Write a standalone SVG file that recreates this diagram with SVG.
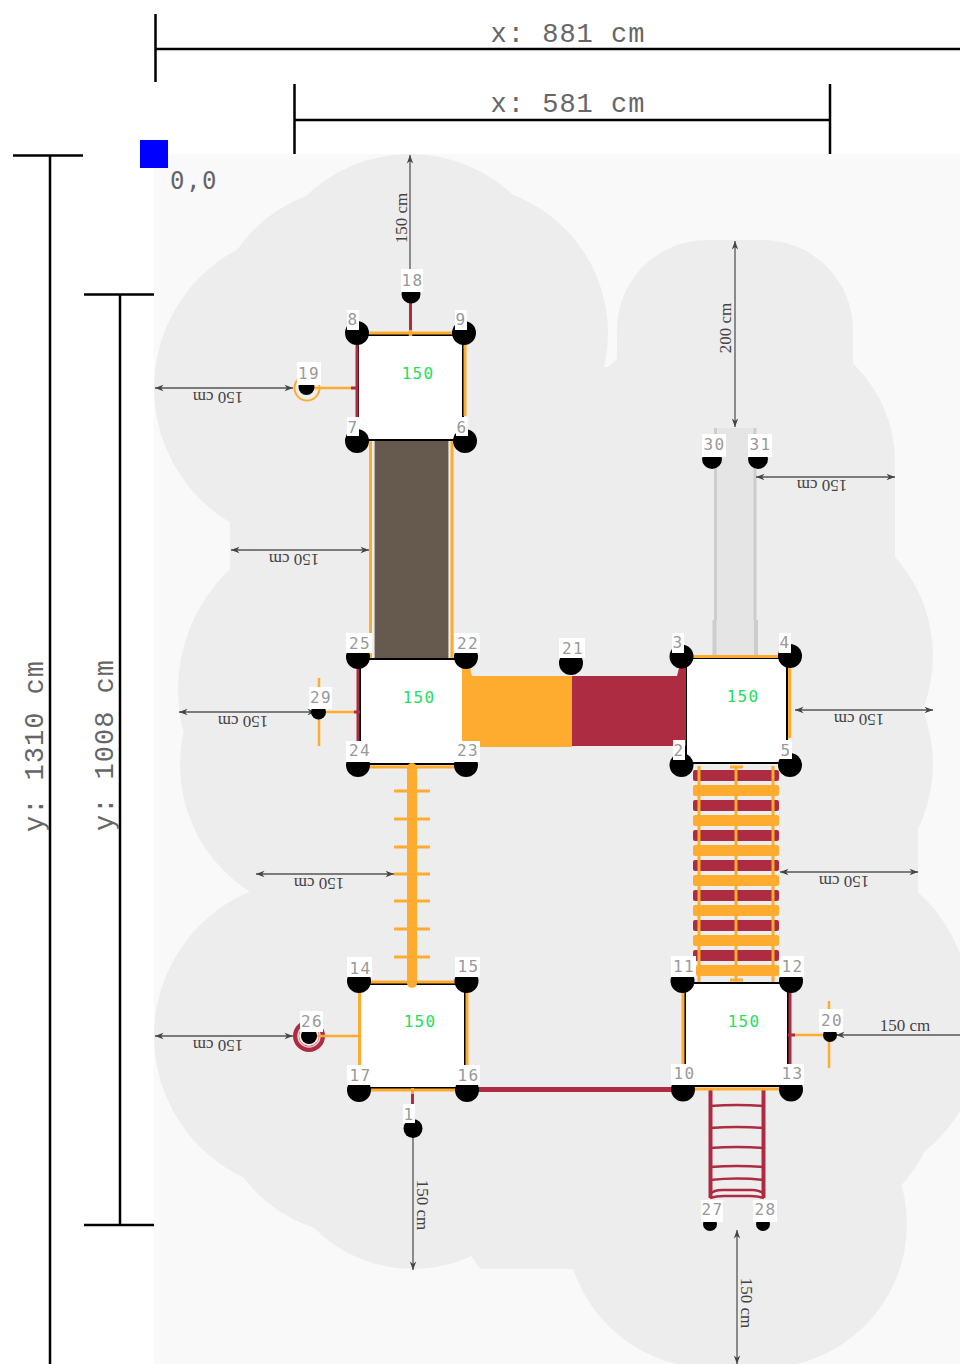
<svg xmlns="http://www.w3.org/2000/svg" width="960" height="1364" viewBox="0 0 960 1364">
<defs>
<marker id="a" markerWidth="10" markerHeight="8" refX="9" refY="4" orient="auto-start-reverse" markerUnits="userSpaceOnUse"><path d="M0.500 0.800L9 4L0.500 7.200L3 4Z" fill="#444"/></marker>
</defs>
<style>
.zone{fill:#ededed}
.dim{stroke:#000;stroke-width:2.5;fill:none}
.dt{font-family:"Liberation Mono","DejaVu Sans Mono",monospace;font-size:27px;letter-spacing:1px;fill:#666;text-anchor:middle}
.ar{stroke:#555;stroke-width:1.3;fill:none;marker-start:url(#a);marker-end:url(#a)}
.ar1{stroke:#555;stroke-width:1.3;fill:none;marker-end:url(#a)}
.at{font-family:"Liberation Serif",serif;font-size:17px;fill:#444;text-anchor:middle}
.o{stroke:#fdac2f;fill:none}
.r{stroke:#ad2c42;fill:none}
.k{stroke:#000;stroke-width:2;fill:#fff}
.n{fill:#000}
.lb{fill:#fff}
.lt{font-family:"DejaVu Sans Mono",monospace;font-size:16px;letter-spacing:1.300px;fill:#999;text-anchor:middle}
.h{font-family:"DejaVu Sans Mono",monospace;font-size:16px;letter-spacing:1.200px;fill:#22e05c;text-anchor:middle}
</style>
<rect x="154" y="154" width="806" height="1210" fill="#f9f9f9"/>
<g id="safety-zone" class="zone">
<circle cx="311" cy="388" r="157"/><circle cx="410" cy="304" r="150"/><circle cx="460" cy="333" r="148"/><circle cx="357" cy="333" r="146"/>
<rect x="230" y="440" width="387" height="260"/><path d="M420 367H608L617 359V477H420Z"/>
<rect x="617" y="240" width="236" height="320" rx="90"/>
<circle cx="758" cy="462" r="137"/><rect x="600" y="470" width="295" height="160"/>
<circle cx="785" cy="656" r="148"/><circle cx="785" cy="764" r="148"/>
<circle cx="345" cy="690" r="167"/><circle cx="330" cy="765" r="150"/>
<rect x="300" y="600" width="560" height="500"/>
<rect x="700" y="830" width="218" height="62"/><circle cx="768" cy="880" r="150"/><circle cx="819" cy="1005" r="150"/>
<circle cx="311" cy="1036" r="157"/><circle cx="359" cy="1090" r="145"/>
<circle cx="413" cy="1129" r="140"/><path d="M472 1090H719V1269H480L472 1257Z"/>
<circle cx="710" cy="1224" r="144"/><circle cx="763" cy="1224" r="144"/><circle cx="830" cy="1034" r="151"/><circle cx="790" cy="1030" r="150"/><circle cx="790" cy="1085" r="150"/>
</g>
<g id="equipment">
<rect x="374.500" y="440" width="74" height="220" fill="#665a4e" stroke="#b5afa8" stroke-width="1"/>
<path class="o" stroke-width="3" d="M370.500 440V660M452 440V660"/>
<g fill="#ad2c42"><rect x="693" y="770" width="86" height="11" rx="2"/><rect x="693" y="800" width="86" height="11" rx="2"/><rect x="693" y="830" width="86" height="11" rx="2"/><rect x="693" y="860" width="86" height="11" rx="2"/><rect x="693" y="890" width="86" height="11" rx="2"/><rect x="693" y="920" width="86" height="11" rx="2"/><rect x="693" y="950" width="86" height="11" rx="2"/></g>
<g fill="#fdac2f"><rect x="693" y="785" width="86" height="11" rx="2"/><rect x="693" y="815" width="86" height="11" rx="2"/><rect x="693" y="845" width="86" height="11" rx="2"/><rect x="693" y="875" width="86" height="11" rx="2"/><rect x="693" y="905" width="86" height="11" rx="2"/><rect x="693" y="935" width="86" height="11" rx="2"/><rect x="696" y="965" width="83" height="11" rx="2"/></g>
<path class="o" stroke-width="3" d="M699 766V982M736 766V982M773 766V982M730 767H743M730 980H743"/>
<path class="r" stroke-width="4" d="M710.500 1089V1198M763.500 1089V1198"/>
<path class="r" stroke-width="2.500" d="M710 1106Q737 1104 764 1106M710 1128Q737 1126 764 1128M710 1148Q737 1146 764 1148M710 1167Q737 1165 764 1167M710 1180Q737 1177 764 1180M710 1194Q714 1190 722 1190H752Q760 1190 764 1194M710 1198Q716 1196 724 1196H750Q758 1196 764 1198"/>
<path class="r" stroke-width="5" d="M466 1089.500H683"/>
<rect x="715" y="428" width="40" height="230" fill="#e5e5e5"/>
<path stroke="#cdcdcd" fill="none" stroke-width="3" d="M715.500 428V620M755 428V620"/>
<path stroke="#cdcdcd" fill="none" stroke-width="4" d="M714.500 620V658M756 620V658"/>
</g>
<g id="platform-a">
<rect class="k" x="358" y="335" width="105" height="105"/>
<path class="o" stroke-width="3" d="M357 333H464M465 334V416"/>
<path class="r" stroke-width="3" d="M357 333V441"/>
<path class="r" stroke-width="3" d="M410.500 297V333"/>
<path class="o" stroke-width="3.500" d="M410.500 330V336"/>
<path class="o" stroke-width="2.500" d="M307 388H352"/>
<path class="r" stroke-width="3" d="M351 388H357"/>
<circle class="o" stroke-width="2" cx="307" cy="388" r="12.500"/>
<text class="h" x="418" y="379">150</text>
</g>
<g id="platform-b">
<rect class="k" x="360" y="659" width="104" height="105"/>
<path class="o" stroke-width="3" d="M358 767H466"/>
<path class="r" stroke-width="3" d="M358 660V741"/>
<path class="o" stroke-width="2.500" d="M318 712H355M319 678V746"/>
<path class="r" stroke-width="3" d="M354 712H360"/>
<text class="h" x="419" y="703">150</text>
</g>
<g id="platform-c">
<rect class="k" x="686" y="658" width="101" height="105"/>
<path class="o" stroke-width="3" d="M681 656.500H789"/>
<path class="o" stroke-width="3" d="M789.500 668V738"/>
<text class="h" x="743" y="702">150</text>
</g>
<g id="platform-d">
<rect class="k" x="360" y="984" width="105" height="104"/>
<path class="o" stroke-width="3" d="M359 982H466M359 1090H467"/>
<path class="o" stroke-width="3" d="M359.500 990V1066M467 990V1066"/>
<path class="r" stroke-width="3" d="M412.500 1092V1105"/>
<path class="o" stroke-width="3" d="M412.500 1088V1094"/>
<circle fill="none" stroke="#ad2c42" stroke-width="6" cx="309" cy="1036" r="13"/>
<circle fill="none" stroke="#f2c8c8" stroke-width="1.500" cx="309" cy="1036" r="11"/>
<path class="o" stroke-width="2.500" d="M309 1036H360"/>
<text class="h" x="420" y="1027">150</text>
</g>
<g id="platform-e">
<rect class="k" x="685" y="983" width="103" height="103"/>
<path class="o" stroke-width="3" d="M683 1089H790"/>
<path class="o" stroke-width="3" d="M683 990V1065"/>
<path class="r" stroke-width="3" d="M790 990V1065"/>
<path class="o" stroke-width="2.500" d="M793 1035H829M829 1001V1068"/>
<path class="r" stroke-width="3" d="M788 1035H795"/>
<text class="h" x="744" y="1027">150</text>
</g>
<g id="deck">
<path fill="#fdac2f" d="M462 668H470L472 676H572V747H462Z"/>
<path fill="#ad2c42" d="M572 676H677L679 668H686V746H572Z"/>
<path class="o" stroke-width="10" stroke-linecap="round" d="M412 768V983"/>
<path class="o" stroke-width="3" d="M394 791H430M394 819H430M394 847H430M394 874H430M394 901H430M394 929H430M394 957H430"/>
</g>
<g id="connectors">
<path class="dim" d="M155.500 14V82M155.500 49H960M294.500 84V154M830 84V154M294.500 120H830M13 155.500H83M50 155.500V1364M84 294.500H154M84 1225H154M120 294.500V1225"/>
<rect x="140" y="140" width="28" height="28" fill="#0000ff"/>
<path class="ar1" d="M410 275V155"/>
<path class="ar1" d="M413 1130V1270"/>
<path class="ar" d="M155 388H293"/>
<path class="ar" d="M231 550H369"/>
<path class="ar" d="M179 712H316"/>
<path class="ar" d="M256 874H394"/>
<path class="ar" d="M155 1036H293"/>
<path class="ar" d="M737 1230V1364"/>
<path class="ar1" d="M960 1035H836"/>
<path class="ar" d="M735 241V427"/>
<path class="ar" d="M756 477H895"/>
<path class="ar" d="M795 710H933"/>
<path class="ar" d="M780 872H918"/>
</g>
<g id="node-1"><circle class="n" cx="413" cy="1128.500" r="9.500"/><rect class="lb" x="403" y="1104" width="12" height="19"/><text class="lt" x="409" y="1120">1</text></g>
<g id="node-2"><circle class="n" cx="681.500" cy="765" r="12"/><rect class="lb" x="673" y="740" width="12" height="20"/><text class="lt" x="679" y="756">2</text></g>
<g id="node-3"><circle class="n" cx="681.500" cy="656.500" r="12"/><rect class="lb" x="672" y="633" width="12" height="20"/><text class="lt" x="678" y="648">3</text></g>
<g id="node-4"><circle class="n" cx="790" cy="656" r="12"/><rect class="lb" x="779" y="633" width="12" height="20"/><text class="lt" x="785" y="648">4</text></g>
<g id="node-5"><circle class="n" cx="790" cy="765" r="12"/><rect class="lb" x="780" y="740" width="12" height="19"/><text class="lt" x="786" y="756">5</text></g>
<g id="node-6"><circle class="n" cx="465" cy="441" r="12"/><rect class="lb" x="456" y="417" width="12" height="19"/><text class="lt" x="462" y="433">6</text></g>
<g id="node-7"><circle class="n" cx="357" cy="441" r="12"/><rect class="lb" x="347" y="417" width="12" height="19"/><text class="lt" x="353" y="433">7</text></g>
<g id="node-8"><circle class="n" cx="357" cy="333" r="12"/><rect class="lb" x="347" y="310" width="12" height="20"/><text class="lt" x="353" y="325">8</text></g>
<g id="node-9"><circle class="n" cx="464" cy="333" r="12"/><rect class="lb" x="455" y="310" width="12" height="20"/><text class="lt" x="461" y="325">9</text></g>
<g id="node-10"><circle class="n" cx="683" cy="1089.500" r="12"/><rect class="lb" x="671" y="1064" width="25" height="21"/><text class="lt" x="684.500" y="1079">10</text></g>
<g id="node-11"><circle class="n" cx="682.500" cy="981" r="12"/><rect class="lb" x="671" y="956" width="25" height="21"/><text class="lt" x="684" y="972">11</text></g>
<g id="node-12"><circle class="n" cx="791" cy="981" r="12"/><rect class="lb" x="779" y="956" width="25" height="21"/><text class="lt" x="792.500" y="972">12</text></g>
<g id="node-13"><circle class="n" cx="791" cy="1089.500" r="12"/><rect class="lb" x="779" y="1064" width="25" height="21"/><text class="lt" x="792.500" y="1079">13</text></g>
<g id="node-14"><circle class="n" cx="359" cy="981" r="12"/><rect class="lb" x="347" y="957" width="25" height="20"/><text class="lt" x="360.500" y="974">14</text></g>
<g id="node-15"><circle class="n" cx="466.500" cy="981" r="12"/><rect class="lb" x="455" y="957" width="25" height="20"/><text class="lt" x="468.500" y="972">15</text></g>
<g id="node-16"><circle class="n" cx="467" cy="1090" r="12"/><rect class="lb" x="455" y="1065" width="25" height="20"/><text class="lt" x="468.500" y="1081">16</text></g>
<g id="node-17"><circle class="n" cx="359" cy="1090" r="12"/><rect class="lb" x="347" y="1065" width="25" height="20"/><text class="lt" x="360.500" y="1081">17</text></g>
<g id="node-18"><circle class="n" cx="411" cy="294" r="9.500"/><rect class="lb" x="401" y="269" width="22" height="23"/><text class="lt" x="412.500" y="286">18</text></g>
<g id="node-19"><circle class="n" cx="306.500" cy="387" r="8"/><rect class="lb" x="297" y="362" width="24" height="23"/><text class="lt" x="309" y="379">19</text></g>
<g id="node-20"><circle class="n" cx="830" cy="1035" r="7"/><rect class="lb" x="819" y="1009" width="24" height="23"/><text class="lt" x="832" y="1026">20</text></g>
<g id="node-21"><circle class="n" cx="571" cy="663" r="12"/><rect class="lb" x="559" y="638" width="26" height="20"/><text class="lt" x="573" y="654">21</text></g>
<g id="node-22"><circle class="n" cx="466" cy="657" r="12"/><rect class="lb" x="454" y="633" width="26" height="20"/><text class="lt" x="468" y="649">22</text></g>
<g id="node-23"><circle class="n" cx="466" cy="765" r="12"/><rect class="lb" x="454" y="741" width="26" height="21"/><text class="lt" x="468" y="756">23</text></g>
<g id="node-24"><circle class="n" cx="358" cy="765" r="12"/><rect class="lb" x="346" y="741" width="26" height="21"/><text class="lt" x="360" y="756">24</text></g>
<g id="node-25"><circle class="n" cx="358" cy="657" r="12"/><rect class="lb" x="346" y="633" width="26" height="20"/><text class="lt" x="360" y="649">25</text></g>
<g id="node-26"><circle class="n" cx="309" cy="1036" r="8"/><rect class="lb" x="300" y="1011" width="23" height="21"/><text class="lt" x="312" y="1027">26</text></g>
<g id="node-27"><circle class="n" cx="710" cy="1224" r="7"/><rect class="lb" x="701" y="1200" width="22" height="22"/><text class="lt" x="712.500" y="1215">27</text></g>
<g id="node-28"><circle class="n" cx="763" cy="1224" r="7"/><rect class="lb" x="753" y="1200" width="24" height="22"/><text class="lt" x="765.500" y="1215">28</text></g>
<g id="node-29"><circle class="n" cx="318.500" cy="712" r="7.500"/><rect class="lb" x="309" y="687" width="23" height="22"/><text class="lt" x="321" y="703">29</text></g>
<g id="node-30"><circle class="n" cx="712" cy="459" r="10"/><rect class="lb" x="702" y="434" width="24" height="23"/><text class="lt" x="714.500" y="450">30</text></g>
<g id="node-31"><circle class="n" cx="758" cy="459" r="10"/><rect class="lb" x="748" y="434" width="24" height="23"/><text class="lt" x="760.500" y="450">31</text></g>
<g id="labels">
<text class="dt" x="568" y="42">x: 881 cm</text>
<text class="dt" x="568" y="112">x: 581 cm</text>
<text class="dt" transform="translate(43,746) rotate(-90)">y: 1310 cm</text>
<text class="dt" transform="translate(113,745) rotate(-90)">y: 1008 cm</text>
<text x="170" y="189" font-family="DejaVu Sans Mono,monospace" font-size="24" letter-spacing="1.500" fill="#666">0,0</text>
<text class="at" transform="translate(407,218) rotate(-90)">150 cm</text>
<text class="at" transform="translate(218,392) rotate(180)">150 cm</text>
<text class="at" transform="translate(294,554) rotate(180)">150 cm</text>
<text class="at" transform="translate(243,716) rotate(180)">150 cm</text>
<text class="at" transform="translate(319,878) rotate(180)">150 cm</text>
<text class="at" transform="translate(218,1040) rotate(180)">150 cm</text>
<text class="at" transform="translate(417,1205) rotate(90)">150 cm</text>
<text class="at" transform="translate(741,1303) rotate(90)">150 cm</text>
<text class="at" x="905" y="1031">150 cm</text>
<text class="at" transform="translate(731,328) rotate(-90)">200 cm</text>
<text class="at" transform="translate(822,480) rotate(180)">150 cm</text>
<text class="at" transform="translate(859,714) rotate(180)">150 cm</text>
<text class="at" transform="translate(844,876) rotate(180)">150 cm</text>
</g>
</svg>
